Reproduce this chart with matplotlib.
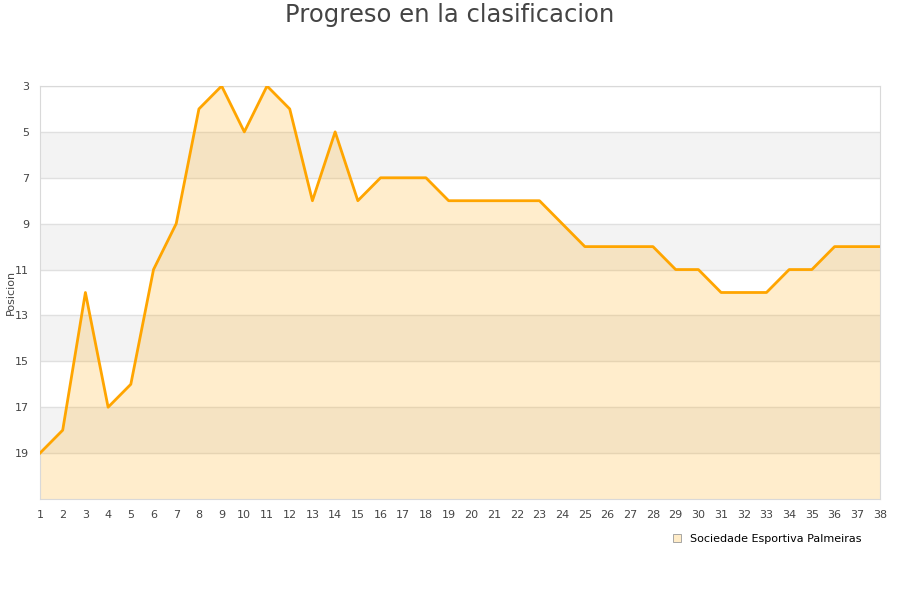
import matplotlib.pyplot as plt
from matplotlib.patches import Patch

# datos
jornadas = list(range(1, 39))
posicion = [19, 18, 12, 17, 16, 11, 9, 4, 3, 5,
            3, 4, 8, 5, 8, 7, 7, 7, 8, 8,
            8, 8, 8, 9, 10, 10, 10, 10, 11, 11,
            12, 12, 12, 11, 11, 10, 10, 10]
equipo = 'Sociedade Esportiva Palmeiras'
y_ticks = [3, 5, 7, 9, 11, 13, 15, 17, 19]

fig = plt.figure(figsize=(9, 6), dpi=100)
ax = fig.add_axes([40/900, 1-499/600, 840/900, 413/600])

# bandas grises alternas
for y0 in [5, 9, 13, 17]:
    ax.axhspan(y0, y0 + 2, color='#f3f3f3', zorder=0, lw=0)
for y in y_ticks:
    ax.axhline(y, color='#e0e0e0', lw=1, zorder=1)

ax.fill_between(jornadas, posicion, 21, color='#ffa500', alpha=0.2, lw=0, zorder=2)
ax.plot(jornadas, posicion, color='#ffa500', lw=2, zorder=3)

ax.set_xlim(1, 38)
ax.set_ylim(21, 3)
ax.set_xticks(jornadas)
ax.set_yticks(y_ticks)
ax.tick_params(length=0, labelsize=8, colors='#444444', pad=8)
for s in ax.spines.values():
    s.set_color('#d9d9d9')
fig.text(11/900, 1-292/600, 'Posicion', rotation=90, fontsize=8, color='#444444',
         ha='center', va='center')

fig.text(0.5, 1-15/600, 'Progreso en la clasificacion', fontsize=17.5, color='#444444',
         ha='center', va='center')

handle = Patch(facecolor='#ffecc8', edgecolor='#999999', lw=0.6)
fig.legend([handle], [equipo], loc='center', bbox_to_anchor=(767/900, 1-539/600),
           frameon=False, fontsize=8, handlelength=0.7, handleheight=0.7, handletextpad=0.8)

plt.savefig('out.png')
